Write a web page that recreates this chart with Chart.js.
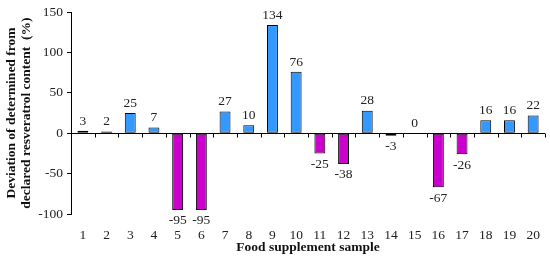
<!DOCTYPE html>
<html>
<head>
<meta charset="utf-8">
<script src="https://cdn.jsdelivr.net/npm/chart.js@4/dist/chart.umd.min.js"></script>
<style>
  html, body { margin: 0; padding: 0; background: #fff; }
  #wrap { width: 550px; height: 262px; }
</style>
</head>
<body>
<div id="wrap"><canvas id="chart"></canvas></div>
<script>
// Sample numbers and their deviation (%)
const samples = ['1','2','3','4','5','6','7','8','9','10','11','12','13','14','15','16','17','18','19','20'];
const deviation = [3, 2, 25, 7, -95, -95, 27, 10, 134, 76, -25, -38, 28, -3, 0, -67, -26, 16, 16, 22];
const yTicks = [-100, -50, 0, 50, 100, 150];

const FONT = '"Liberation Serif", "DejaVu Serif", serif';

// positive bars blue, negative bars magenta
const barColors = deviation.map(v => v < 0 ? '#cc00cc' : '#3399ff');

// draws the zero line with tick marks between categories, plus value labels
const zeroAxisPlugin = {
  id: 'zeroAxis',
  afterDatasetsDraw(chart) {
    const ctx = chart.ctx;
    const x = chart.scales.x;
    const y = chart.scales.y;
    const y0 = Math.round(y.getPixelForValue(0)) + 0.5;
    ctx.save();
    ctx.strokeStyle = '#000';
    ctx.lineWidth = 1;
    ctx.beginPath();
    ctx.moveTo(chart.chartArea.left, y0);
    ctx.lineTo(chart.chartArea.right, y0);
    const step = x.getPixelForValue(1) - x.getPixelForValue(0);
    for (let i = 0; i <= samples.length; i++) {
      const px = Math.round(x.getPixelForValue(i) - step / 2) + 0.5;
      ctx.moveTo(px, y0);
      ctx.lineTo(px, y0 + 4);
    }
    ctx.stroke();

    // value labels
    ctx.fillStyle = '#222';
    ctx.font = '13.5px ' + FONT;
    ctx.textAlign = 'center';
    const meta = chart.getDatasetMeta(0);
    meta.data.forEach((bar, i) => {
      const v = deviation[i];
      if (v < 0) {
        ctx.textBaseline = 'top';
        ctx.fillText(String(v), bar.x, bar.y + 4);
      } else {
        ctx.textBaseline = 'bottom';
        ctx.fillText(String(v), bar.x, bar.y - 3);
      }
    });
    ctx.restore();
  }
};

new Chart(document.getElementById('chart'), {
  type: 'bar',
  data: {
    labels: samples,
    datasets: [{
      data: deviation,
      backgroundColor: barColors,
      borderColor: '#000',
      borderWidth: 1,
      borderSkipped: false,
      barPercentage: 0.46,
      categoryPercentage: 1
    }]
  },
  options: {
    responsive: true,
    maintainAspectRatio: false,
    animation: false,
    layout: { padding: { top: 11, right: 5, left: 0, bottom: 0 } },
    plugins: {
      legend: { display: false },
      tooltip: { enabled: false }
    },
    scales: {
      x: {
        offset: true,
        border: { display: false },
        grid: { display: false },
        ticks: {
          color: '#222',
          font: { family: FONT, size: 13.5 },
          padding: 5,
          maxRotation: 0
        },
        title: {
          display: true,
          text: 'Food supplement sample',
          color: '#111',
          font: { family: FONT, size: 13.5, weight: 'bold' },
          padding: { top: 0, bottom: 6 }
        },
        afterFit(scale) { scale.height = 48; }
      },
      y: {
        min: -100,
        max: 150,
        afterBuildTicks(scale) { scale.ticks = yTicks.map(v => ({ value: v })); },
        border: { display: true, color: '#000', width: 1 },
        grid: {
          drawOnChartArea: false,
          drawTicks: true,
          tickLength: 4,
          color: '#000'
        },
        ticks: {
          color: '#222',
          font: { family: FONT, size: 13.5 },
          padding: 4
        },
        title: {
          display: true,
          text: ['Deviation of determined from', 'declared resveratrol content  (%)'],
          color: '#111',
          font: { family: FONT, size: 13.5, weight: 'bold', lineHeight: 1.1 },
          padding: { top: 4, bottom: 2 }
        },
        afterFit(scale) { scale.width = 71; }
      }
    }
  },
  plugins: [zeroAxisPlugin]
});
</script>
</body>
</html>
